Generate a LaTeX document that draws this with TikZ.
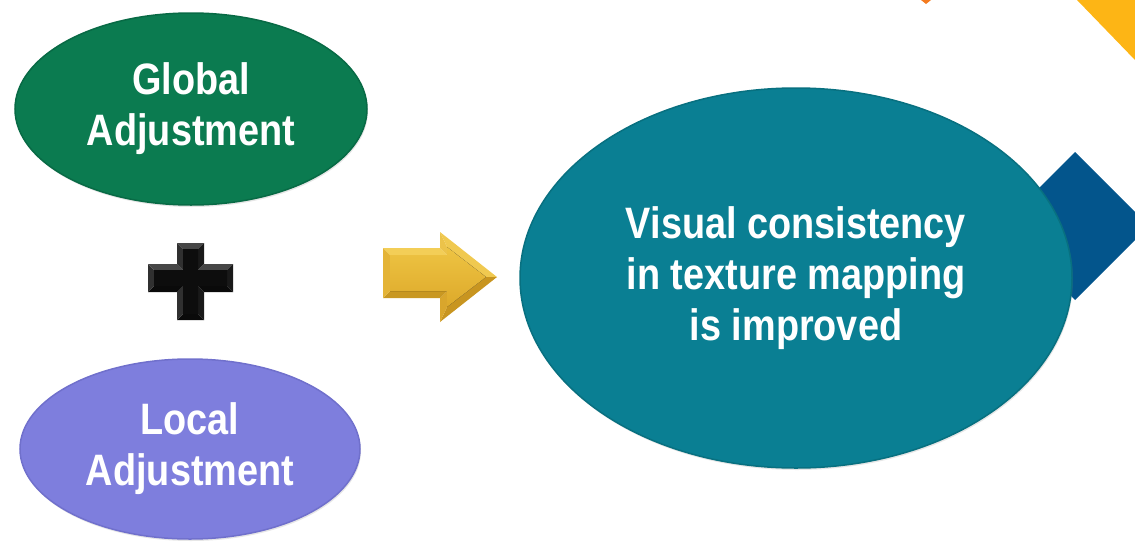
\documentclass[tikz,border=0pt]{standalone}
\usepackage{fontspec}
\setmainfont{Liberation Sans}[FakeStretch=0.86]
\usetikzlibrary{shapes.geometric,shadows}

\definecolor{gadj}{HTML}{0B7B50}
\definecolor{gadjrim}{HTML}{086A45}
\definecolor{ladj}{HTML}{7E7EDD}
\definecolor{ladjrim}{HTML}{7070CC}
\definecolor{tealfill}{HTML}{0A7F93}
\definecolor{tealrim}{HTML}{087080}
\definecolor{navy}{HTML}{03558C}
\definecolor{sun}{HTML}{FDB515}
\definecolor{tangerine}{HTML}{F47B20}
\definecolor{goldtop}{HTML}{EEC443}
\definecolor{goldmid}{HTML}{E8B833}
\definecolor{goldbot}{HTML}{DDA92A}

\begin{document}
\begin{tikzpicture}[x=1pt,y=-1pt,
  blob/.style={ellipse, inner sep=0pt, text=white, align=center,
    font=\fontsize{44}{51}\selectfont\bfseries,
    line width=1.5pt,
    drop shadow={opacity=0.2, shadow xshift=1pt, shadow yshift=-2pt}}]
\useasboundingbox (0,0) rectangle (1135,544);

% corner decorations
\begin{scope}
  \clip (0,0) rectangle (1135,544);
  \fill[navy] (1075,152) -- (1149,226) -- (1075,300) -- (1001,226) -- cycle;
  \fill[sun] (1077,0) -- (1135,0) -- (1135,60) -- cycle;
  \fill[tangerine] (921,0) -- (931,0) -- (926,4) -- cycle;
\end{scope}

% the three ovals
\node[blob, fill=gadj, draw=gadjrim, minimum width=352pt, minimum height=192pt]
  (global) at (191,109) {Global\\Adjustment};
\node[blob, fill=ladj, draw=ladjrim, minimum width=340pt, minimum height=180pt]
  (local) at (190,449) {Local\\Adjustment};
\node[blob, fill=tealfill, draw=tealrim, minimum width=552pt, minimum height=380pt]
  (result) at (796,278) {Visual consistency\\in texture mapping\\is improved};

% bevelled plus sign
\foreach \n/\x/\y in {1/177/243,2/204/243,3/204/264,4/233/264,5/233/292,6/204/292,
                      7/204/320,8/177/320,9/177/292,10/148/292,11/148/264,12/177/264}
  \coordinate (p\n) at (\x,\y);
\foreach \n/\x/\y in {1/183/249,2/198/249,3/198/270,4/227/270,5/227/286,6/198/286,
                      7/198/314,8/183/314,9/183/286,10/154/286,11/154/270,12/183/270}
  \coordinate (q\n) at (\x,\y);
\foreach \a/\b/\c in {1/2/gray!55!black,2/3/gray!20!black,3/4/gray!55!black,
                      4/5/gray!20!black,5/6/gray!8!black,6/7/gray!20!black,
                      7/8/gray!8!black,8/9/gray!38!black,9/10/gray!8!black,
                      10/11/gray!38!black,11/12/gray!55!black,12/1/gray!38!black}
  \fill[\c] (p\a) -- (p\b) -- (q\b) -- (q\a) -- cycle;
\fill[black!95] (q1) -- (q2) -- (q3) -- (q4) -- (q5) -- (q6) -- (q7) -- (q8)
  -- (q9) -- (q10) -- (q11) -- (q12) -- cycle;

% bevelled block arrow
\foreach \n/\x/\y in {1/383/248,2/440/248,3/440/232,4/497/277,5/440/322,6/440/298,7/383/298}
  \coordinate (a\n) at (\x,\y);
\foreach \n/\x/\y in {1/390/255,2/447/255,3/447/247,4/486/277,5/447/307,6/447/291,7/390/291}
  \coordinate (b\n) at (\x,\y);
\foreach \i/\j/\c in {1/2/F3CE57,2/3/ECC34A,3/4/F0C950,4/5/C89520,
                      5/6/D9A62C,6/7/C99822,7/1/E4B437}
  {\definecolor{fc}{HTML}{\c}\fill[fc] (a\i) -- (a\j) -- (b\j) -- (b\i) -- cycle;}
\fill[top color=goldtop, middle color=goldmid, bottom color=goldbot]
  (b1) -- (b2) -- (b3) -- (b4) -- (b5) -- (b6) -- (b7) -- cycle;
\end{tikzpicture}
\end{document}
